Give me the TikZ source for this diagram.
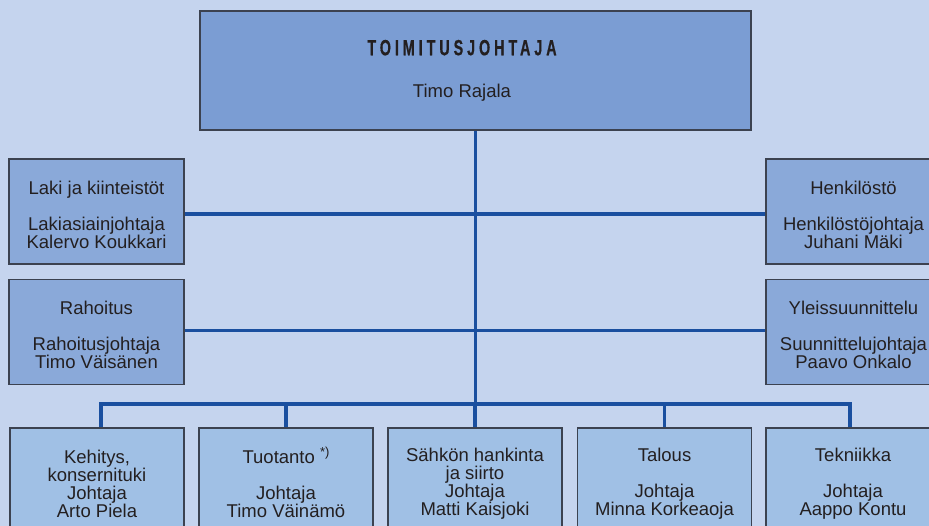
\documentclass[tikz,border=0pt]{standalone}
\usepackage{fontspec}
\setmainfont{Liberation Sans}
\newfontfamily\titlefont{Liberation Sans Bold}[FakeStretch=0.65,LetterSpace=18,FakeBold=0.6]
\usetikzlibrary{positioning}

\definecolor{bgblue}{HTML}{C5D4EE}
\definecolor{topblue}{HTML}{7B9DD3}
\definecolor{sideblue}{HTML}{8AA9D9}
\definecolor{unitblue}{HTML}{A0C0E5}
\definecolor{busblue}{HTML}{1A4F9F}
\definecolor{boxline}{HTML}{3C4250}
\definecolor{txt}{HTML}{231F20}

\newcommand{\ceopad}{\hspace*{27pt}}

\tikzset{
    orgbox/.style={draw=boxline,line width=1.2pt,text=txt,align=center,inner sep=0pt,
        minimum width=175pt,minimum height=105pt,font=\fontsize{18.5}{18}\selectfont},
    staffbox/.style={orgbox,fill=sideblue,text height=74pt},
    unitbox/.style={orgbox,fill=unitblue,minimum width=174pt,text height=74pt},
    conn/.style={draw=busblue,line width=3.5pt}
}

\begin{document}
\begin{tikzpicture}[x=1pt,y=-1pt]

    \clip (0,0) rectangle (929,526);
    \fill[bgblue] (0,0) rectangle (929,526);

    % toimitusjohtaja
    \node[orgbox,fill=topblue,minimum width=551pt,minimum height=119pt] (ceo) at (475.5,70.5)
        {{\titlefont\fontsize{22}{18}\selectfont TOIMITUSJOHTAJA}\ceopad\\[24pt]Timo Rajala\ceopad};

    % staff units
    \node[staffbox] (laki) at (96.5,211.5) {Laki ja kiinteistöt\\[18pt]Lakiasiainjohtaja\\Kalervo Koukkari};
    \node[staffbox] (rahoitus) at (96.5,332) {Rahoitus\\[18pt]Rahoitusjohtaja\\Timo Väisänen};
    \node[staffbox] (henkilosto) at (853.5,211.5) {Henkilöstö\\[18pt]Henkilöstöjohtaja\\Juhani Mäki};
    \node[staffbox] (yleis) at (853.5,332) {Yleissuunnittelu\\[18pt]Suunnittelujohtaja\\Paavo Onkalo};

    % business units
    \node[unitbox] (kehitys) at (97,480.5) {Kehitys,\\konsernituki\\Johtaja\\Arto Piela};
    \node[unitbox] (tuotanto) at (286,480.5) {Tuotanto {\fontsize{13}{13}\selectfont\raisebox{6.5pt}{*)}}\\[18pt]Johtaja\\Timo Väinämö};
    \node[unitbox] (sahko) at (475,480.5) {Sähkön hankinta\\ja siirto\\Johtaja\\Matti Kaisjoki};
    \node[unitbox] (talous) at (664.5,480.5) {Talous\\[18pt]Johtaja\\Minna Korkeaoja};
    \node[unitbox] (tekniikka) at (853,480.5) {Tekniikka\\[18pt]Johtaja\\Aappo Kontu};

    \coordinate (bus) at (475.5,404);

    \draw[conn] (ceo.south) -- (bus); % trunk
    \draw[conn] ([yshift=-2.5pt]laki.east) -- ([yshift=-2.5pt]henkilosto.west);
    \draw[conn] ([yshift=1.5pt]rahoitus.east) -- ([yshift=1.5pt]yleis.west);
    \draw[conn] ([xshift=4pt]kehitys.north) |- (bus) -| ([xshift=-3pt]tekniikka.north);
    \draw[conn] (tuotanto.north) -- (tuotanto.north |- bus);
    \draw[conn] (sahko.north) -- (sahko.north |- bus);
    \draw[conn] (talous.north) -- (talous.north |- bus);

\end{tikzpicture}
\end{document}
